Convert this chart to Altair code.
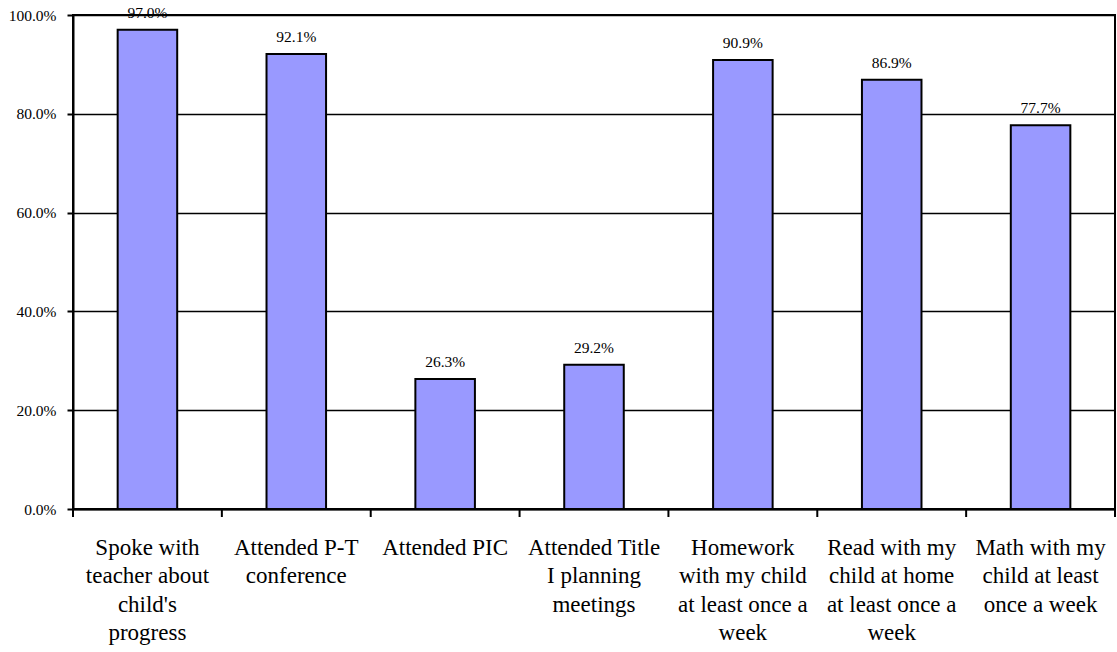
import altair as alt
import pandas as pd

# Survey items (line breaks marked with "|") and share of parents answering yes
activities = [
    "Spoke with|teacher about|child's|progress",
    "Attended P-T|conference",
    "Attended PIC",
    "Attended Title|I planning|meetings",
    "Homework|with my child|at least once a|week",
    "Read with my|child at home|at least once a|week",
    "Math with my|child at least|once a week",
]
shares = [0.970, 0.921, 0.263, 0.292, 0.909, 0.869, 0.777]

df = pd.DataFrame({"activity": activities, "share": shares})

W, H = 1042, 494
SERIF = "'Times New Roman', 'Liberation Serif', 'DejaVu Serif', serif"

x_scale = alt.Scale(paddingInner=0, paddingOuter=0)
y_scale = alt.Scale(domain=[0, 1])

x_axis = alt.Axis(
    labelAngle=0,
    labelExpr="split(datum.label, '|')",
    labelFont=SERIF,
    labelFontSize=23,
    labelColor="black",
    labelLineHeight=28.5,
    labelBaseline="top",
    labelPadding=27,
    labelLimit=0,
    ticks=False,
    domainColor="black",
    domainWidth=2,
)
y_axis = alt.Axis(
    values=[0, 0.2, 0.4, 0.6, 0.8, 1.0],
    format=".1%",
    labelFont=SERIF,
    labelFontSize=15.5,
    labelColor="black",
    labelPadding=11,
    tickSize=6,
    tickWidth=2,
    tickColor="black",
    domainColor="black",
    domainWidth=2,
    grid=True,
    gridColor="black",
    gridWidth=1.5,
)

base = alt.Chart(df)

bars = base.mark_bar(
    width=alt.RelativeBandSize(0.4),
    color="#9999FF",
    stroke="black",
    strokeWidth=2,
).encode(
    x=alt.X("activity:N", sort=None, scale=x_scale, title=None, axis=x_axis),
    y=alt.Y("share:Q", scale=y_scale, title=None, axis=y_axis),
)

values = base.mark_text(
    font=SERIF,
    fontSize=15.5,
    color="black",
    baseline="alphabetic",
    dy=-12,
).encode(
    x=alt.X("activity:N", sort=None, scale=x_scale, title=None, axis=x_axis),
    y=alt.Y("share:Q", scale=y_scale, title=None, axis=y_axis),
    text=alt.Text("share:Q", format=".1%"),
)

# Category separator ticks below the axis
seps = base.mark_rule(color="black", strokeWidth=2).encode(
    x=alt.X("activity:N", sort=None, scale=x_scale, title=None, axis=x_axis,
            bandPosition=0),
    y=alt.value(H),
    y2=alt.value(H + 8),
)
end_sep = base.mark_rule(color="black", strokeWidth=2).encode(
    x=alt.value(W),
    y=alt.value(H),
    y2=alt.value(H + 8),
)

chart = (
    alt.layer(bars, values, seps, end_sep)
    .properties(
        width=W,
        height=H,
        padding={"left": 73, "top": 15, "right": 2, "bottom": 143},
        autosize=alt.AutoSizeParams(type="none"),
        background="white",
    )
    .configure_view(stroke="black", strokeWidth=2)
)

chart.save("out.html", embed_options={"renderer": "svg", "actions": False})
